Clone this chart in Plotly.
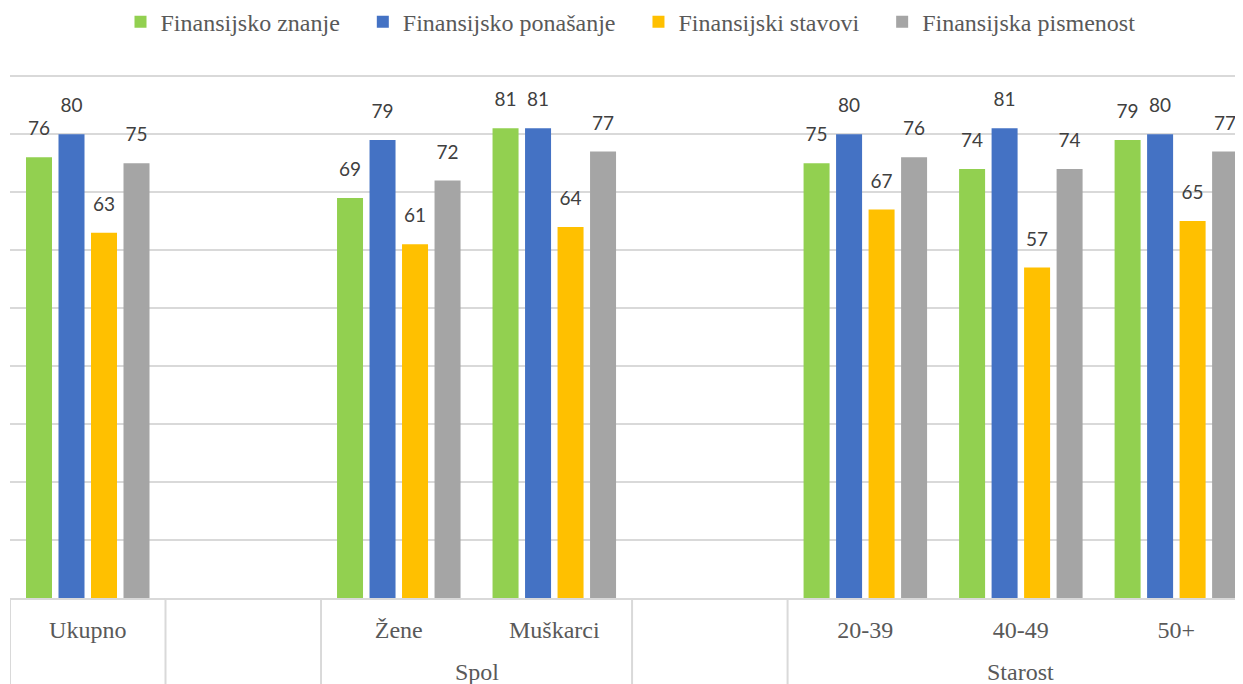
import plotly.graph_objects as go

categories = ["Ukupno", " ", "Žene", "Muškarci", "  ", "20-39", "40-49", "50+"]
groups = ["g0", "g1", "Spol", "Spol", "g4", "Starost", "Starost", "Starost"]
group_labels = {"Spol": "Spol", "Starost": "Starost"}

series_names = ["Finansijsko znanje", "Finansijsko ponašanje", "Finansijski stavovi", "Finansijska pismenost"]
znanje = [76, None, 69, 81, None, 75, 74, 79]
ponasanje = [80, None, 79, 81, None, 80, 81, 80]
stavovi = [63, None, 61, 64, None, 67, 57, 65]
pismenost = [75, None, 72, 77, None, 76, 74, 77]
colors = ["#92D050", "#4472C4", "#FFC000", "#A5A5A5"]

SERIF = "Times New Roman, Liberation Serif, serif"
GRID = "#d9d9d9"
TXT = "#595959"

fig = go.Figure()
for i, (name, vals, col) in enumerate(zip(series_names, [znanje, ponasanje, stavovi, pismenost], colors)):
    legend_name = name + ("\u00a0\u00a0\u00a0" if i < len(series_names) - 1 else "")
    fig.add_trace(go.Bar(
        x=categories, y=vals, name=legend_name, marker=dict(color=col, line=dict(width=0)),
        offsetgroup=name,
    ))
for name, vals in zip(series_names, [znanje, ponasanje, stavovi, pismenost]):
    fig.add_trace(go.Scatter(
        x=categories, y=vals, mode="markers+text", showlegend=False, hoverinfo="skip",
        marker=dict(size=26, opacity=0), offsetgroup=name,
        text=[("" if v is None else str(v)) for v in vals], textposition="top center",
        textfont=dict(family="Lato", size=19, color="#404040"),
        cliponaxis=False,
    ))

# group spans from the group list
spans = []
start = 0
for i in range(1, len(groups) + 1):
    if i == len(groups) or groups[i] != groups[start]:
        spans.append((groups[start], start, i - 1))
        start = i

H_PLOT = 523
B_MARGIN = 94
for g, s, e in spans:
    fig.add_shape(type="line", xref="x", yref="paper", x0=s - 0.5, x1=s - 0.5, y0=0, y1=-B_MARGIN / H_PLOT,
                  line=dict(color=GRID, width=2), layer="above")
    if g in group_labels:
        fig.add_annotation(x=(s + e) / 2, xref="x", yref="paper", y=-0.1415, yanchor="middle",
                           text=group_labels[g], showarrow=False,
                           font=dict(family=SERIF, size=24, color=TXT))
last_end = spans[-1][2]
fig.add_shape(type="line", xref="x", yref="paper", x0=last_end + 0.5, x1=last_end + 0.5, y0=0,
              y1=-B_MARGIN / H_PLOT, line=dict(color=GRID, width=2), layer="above")

fig.update_layout(
    width=1243, height=684,
    margin=dict(l=2, r=0, t=67, b=B_MARGIN, autoexpand=False),
    paper_bgcolor="white", plot_bgcolor="white",
    barmode="group", bargap=0.164, bargroupgap=0.2,
    scattermode="group", scattergap=0.164,
    legend=dict(orientation="h", x=0.5, xanchor="center", y=1.101, yanchor="middle",
                font=dict(family=SERIF, size=24, color=TXT),
                itemwidth=30, traceorder="normal"),
    xaxis=dict(type="category", range=[-0.5, 7.48], showline=True, linecolor=GRID, linewidth=2,
               showgrid=False, automargin=False,
               tickfont=dict(family=SERIF, size=24, color=TXT),
               ticks="", ticklabelstandoff=9),
    yaxis=dict(range=[0, 90.2], dtick=10, showgrid=True, gridcolor=GRID, gridwidth=2,
               showticklabels=False, zeroline=False, showline=False, automargin=False),
)
fig.write_html("out.html")
